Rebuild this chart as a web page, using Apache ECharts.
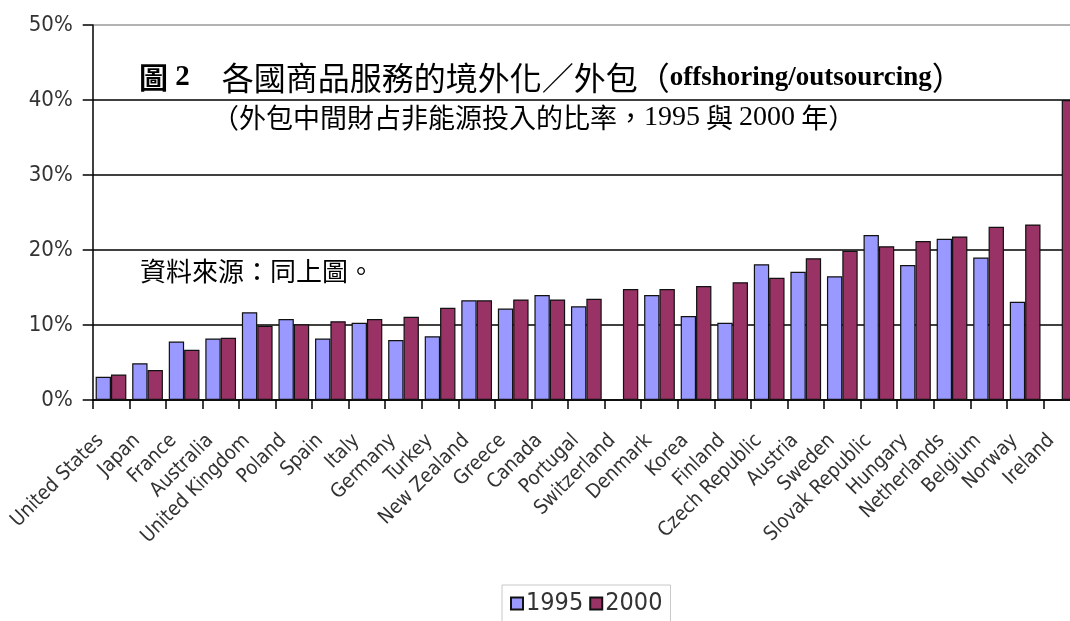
<!DOCTYPE html>
<html>
<head>
<meta charset="utf-8">
<style>
  html, body { margin: 0; padding: 0; background: #fff; overflow: hidden; width: 1070px; height: 621px; }
  /* the plot runs slightly past the right edge of the page, so the canvas is a bit wider */
  #chart { width: 1080px; height: 621px; }
</style>
<script src="https://cdn.jsdelivr.net/npm/echarts@6/dist/echarts.min.js"></script>
</head>
<body>
<div id="chart"></div>
<script>
// Share of imported intermediate goods in non-energy inputs, by country (%)
const countries = [
  'United States', 'Japan', 'France', 'Australia', 'United Kingdom', 'Poland',
  'Spain', 'Italy', 'Germany', 'Turkey', 'New Zealand', 'Greece', 'Canada',
  'Portugal', 'Switzerland', 'Denmark', 'Korea', 'Finland', 'Czech Republic',
  'Austria', 'Sweden', 'Slovak Republic', 'Hungary', 'Netherlands', 'Belgium',
  'Norway', 'Ireland'
];
const values1995 = [
  3.1, 4.9, 7.8, 8.2, 11.7, 10.8,
  8.2, 10.3, 8.0, 8.5, 13.3, 12.2, 14.0,
  12.5, null, 14.0, 11.2, 10.3, 18.1,
  17.1, 16.5, 22.0, 18.0, 21.5, 19.0,
  13.1, null
];
const values2000 = [
  3.4, 4.0, 6.7, 8.3, 9.9, 10.1,
  10.5, 10.8, 11.1, 12.3, 13.3, 13.4, 13.4,
  13.5, 14.8, 14.8, 15.2, 15.7, 16.3,
  18.9, 19.9, 20.5, 21.2, 21.8, 23.1,
  23.4, 40.0
];
const seriesNames = ['1995', '2000'];
const yTicks = [0, 10, 20, 30, 40, 50];

const narrow = "'Liberation Sans Narrow', 'Arial Narrow', 'DejaVu Sans Condensed', sans-serif";
const cjk = "'Noto Sans CJK TC', 'Noto Sans CJK SC', sans-serif";
const serif = "'Liberation Serif', 'Times New Roman', serif";

const chart = echarts.init(document.getElementById('chart'), null, { renderer: 'canvas' });

chart.setOption({
  backgroundColor: '#ffffff',
  animation: false,
  title: [
    {
      left: 139,
      top: 59,
      padding: 0,
      text: '{b|圖}{n| 2}{c|　各國商品服務的境外化／外包（}{e|offshoring/outsourcing}{c|）}',
      textStyle: {
        rich: {
          b: { fontFamily: cjk, fontWeight: 'bold', fontSize: 29, color: '#000', lineHeight: 38 },
          n: { fontFamily: serif, fontWeight: 'bold', fontSize: 29, color: '#000', lineHeight: 38 },
          c: { fontFamily: cjk, fontWeight: 'normal', fontSize: 32, color: '#000', lineHeight: 38 },
          e: { fontFamily: serif, fontWeight: 'bold', fontSize: 27, color: '#000', lineHeight: 38 }
        }
      }
    },
    {
      left: 212,
      top: 102,
      padding: 0,
      text: '（外包中間財占非能源投入的比率，{d|1995} 與 {d|2000} 年）',
      textStyle: {
        fontFamily: cjk, fontWeight: 'normal', fontSize: 27, color: '#000', lineHeight: 32,
        rich: {
          d: { fontFamily: serif, fontSize: 28, color: '#000', lineHeight: 32 }
        }
      }
    },
    {
      left: 140,
      top: 255,
      padding: 0,
      text: '資料來源：同上圖。',
      textStyle: { fontFamily: cjk, fontWeight: 'normal', fontSize: 26, color: '#000', lineHeight: 32 }
    }
  ],
  legend: {
    data: seriesNames,
    left: 502,
    top: 585,
    padding: [6, 8, 6, 8],
    itemWidth: 12,
    itemHeight: 12,
    itemGap: 6,
    icon: 'rect',
    borderColor: '#c8c8c8',
    borderWidth: 1,
    textStyle: { fontFamily: narrow, fontSize: 25, color: '#333', padding: [0, 0, 0, -2] }
  },
  grid: {
    left: 92.7,
    top: 25,
    right: 0,
    bottom: 221,
    containLabel: false
  },
  xAxis: {
    type: 'category',
    data: countries,
    axisLine: { show: true, lineStyle: { color: '#000', width: 1.5 } },
    axisTick: { show: true, alignWithLabel: false, length: 9, lineStyle: { color: '#000', width: 1.5 } },
    axisLabel: {
      interval: 0,
      rotate: 45,
      margin: 27,
      padding: [0, 15, 0, 0],
      fontFamily: narrow,
      fontSize: 20,
      color: '#333'
    }
  },
  yAxis: {
    type: 'value',
    min: yTicks[0],
    max: yTicks[yTicks.length - 1],
    interval: 10,
    axisLine: { show: true, lineStyle: { color: '#000', width: 1.5 } },
    axisTick: { show: true, length: 10, lineStyle: { color: '#000', width: 1.5 } },
    axisLabel: {
      margin: 20,
      fontFamily: narrow,
      fontSize: 22,
      color: '#333',
      formatter: '{value}%'
    },
    splitLine: {
      show: true,
      lineStyle: { color: ['#000', '#000', '#000', '#000', '#000', '#9a9a9a'], width: 1.5 }
    }
  },
  series: [
    {
      name: seriesNames[0],
      type: 'bar',
      data: values1995,
      barGap: '0%',
      barCategoryGap: '16%',
      itemStyle: { color: '#9999FF', borderColor: '#111', borderWidth: 1.2 }
    },
    {
      name: seriesNames[1],
      type: 'bar',
      data: values2000,
      barGap: '0%',
      barCategoryGap: '16%',
      itemStyle: { color: '#993366', borderColor: '#111', borderWidth: 1.2 }
    }
  ]
});
</script>
</body>
</html>
